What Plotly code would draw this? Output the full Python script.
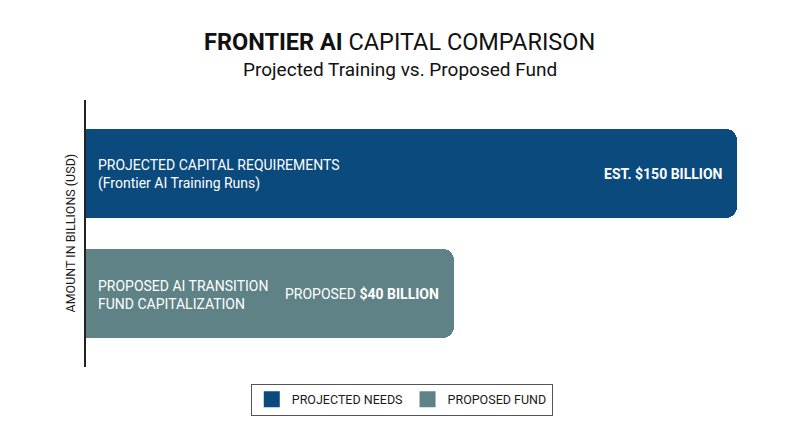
import plotly.graph_objects as go

# datos
series_names = ["PROJECTED NEEDS", "PROPOSED FUND"]
amounts_billion = [150, 40]
# la barra del fondo no esta a escala en el original; longitud
bar_lengths = [150, 84.8]
bar_labels = [
    "PROJECTED CAPITAL REQUIREMENTS<br>(Frontier AI Training Runs)",
    "PROPOSED AI TRANSITION<br>FUND CAPITALIZATION",
]
value_labels = [
    "<b>EST. $%d BILLION</b>" % amounts_billion[0],
    "PROPOSED <b>$%d BILLION</b>" % amounts_billion[1],
]
colors = ["#0b4a7d", "#5e8285"]

fig = go.Figure()

for i in range(len(series_names)):
    fig.add_trace(go.Bar(
        name=series_names[i],
        x=[bar_lengths[i]],
        y=[i],
        orientation="h",
        width=0.742,
        marker=dict(color=colors[i], cornerradius=11, line=dict(width=0)),
        showlegend=False,
        hoverinfo="skip",
    ))
    # cuadrado grande para la leyenda
    fig.add_trace(go.Scatter(
        name=series_names[i],
        x=[None], y=[None],
        mode="markers",
        marker=dict(symbol="square", size=16, color=colors[i]),
        showlegend=True,
    ))
    # etiqueta de la izquierda dentro de la barra
    fig.add_annotation(
        x=0, y=i, xref="x", yref="y",
        text=bar_labels[i],
        showarrow=False,
        xanchor="left", align="left",
        xshift=10, yshift=-1,
        font=dict(family="Roboto", size=14, color="white"),
    )
    # valor a la derecha dentro de la barra
    fig.add_annotation(
        x=bar_lengths[i], y=i, xref="x", yref="y",
        text=value_labels[i],
        showarrow=False,
        xanchor="right",
        xshift=-13,
        font=dict(family="Roboto", size=14, color="white"),
    )

# titulo y subtitulo
fig.add_annotation(
    x=0.4604, y=1.217, xref="paper", yref="paper",
    text="<b>FRONTIER AI</b> CAPITAL COMPARISON",
    showarrow=False, xanchor="center", yanchor="middle",
    font=dict(family="Roboto", size=23.5, color="#111111"),
)
fig.add_annotation(
    x=0.4604, y=1.116, xref="paper", yref="paper",
    text="Projected Training vs. Proposed Fund",
    showarrow=False, xanchor="center", yanchor="middle",
    font=dict(family="Roboto", size=19, color="#111111"),
)
# titulo del eje y
fig.add_annotation(
    x=0, y=0.5, xref="paper", yref="paper",
    text="AMOUNT IN BILLIONS (USD)",
    textangle=-90,
    showarrow=False, xanchor="center", yanchor="middle",
    xshift=-16,
    font=dict(family="Roboto", size=12.5, color="#1a1a1a"),
)

fig.update_layout(
    width=800, height=447,
    margin=dict(l=78, r=40, t=92, b=88),
    paper_bgcolor="white",
    plot_bgcolor="white",
    font=dict(family="Roboto", color="#1a1a1a"),
    showlegend=True,
    legend=dict(
        orientation="h",
        x=0.463, xanchor="center",
        y=-0.062, yanchor="top",
        bordercolor="#555555", borderwidth=1,
        font=dict(family="Roboto", size=12.5, color="#1a1a1a"),
        itemsizing="trace",
        tracegroupgap=0,
    ),
    bargap=0,
)

fig.update_xaxes(
    range=[0, 157.1],
    showgrid=False, zeroline=False, showticklabels=False, ticks="",
)
fig.update_yaxes(
    range=[1.6125, -0.6125],
    showgrid=False, zeroline=False, showticklabels=False, ticks="",
    showline=True, linecolor="#222222", linewidth=1.5,
    automargin=False,
)

fig.write_html("out.html")
